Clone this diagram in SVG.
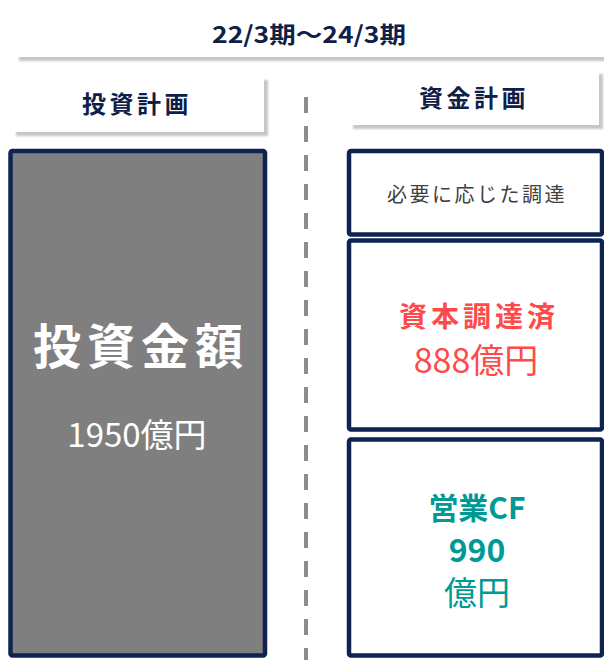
<svg xmlns="http://www.w3.org/2000/svg" width="604" height="660" viewBox="0 0 604 660">
<defs>
<filter id="soft" x="-5%" y="-20%" width="110%" height="140%"><feGaussianBlur stdDeviation="0.8"/></filter>
</defs>
<style>
text{font-family:"Noto Sans CJK JP","Noto Sans",sans-serif;text-anchor:middle}
.hdr{font-weight:bold;fill:#0e2047}
.shadow{fill:#c6c6c6;filter:url(#soft)}
.panel{fill:#ffffff}
.box{stroke:#0e2350;stroke-width:4.5}
.red{fill:#ff4a4a}
.teal{fill:#009a96}
</style>
<rect width="604" height="660" fill="#ffffff"/>
<g id="period">
<rect class="shadow" x="19" y="4" width="600" height="57"/>
<rect class="panel" x="15" y="0" width="600" height="57"/>
<text class="hdr" x="309" y="43" font-size="23" textLength="194" lengthAdjust="spacingAndGlyphs">22/3期～24/3期</text>
</g>
<g id="invest-header">
<rect class="shadow" x="16" y="80" width="252" height="56"/>
<rect class="panel" x="12" y="76" width="252" height="56"/>
<text class="hdr" x="137" y="113" font-size="24" letter-spacing="3.5">投資計画</text>
</g>
<g id="fund-header">
<rect class="shadow" x="353" y="74" width="250" height="55"/>
<rect class="panel" x="349" y="70" width="250" height="55"/>
<text class="hdr" x="474" y="107" font-size="24" letter-spacing="3.5">資金計画</text>
</g>
<g id="connectors">
<line x1="306" y1="97" x2="306" y2="660" stroke="#8c8c8c" stroke-width="4" stroke-dasharray="16 13"/>
</g>
<g id="invest-amount">
<rect class="box" x="10.5" y="151" width="254.5" height="504.5" rx="2" fill="#7f7f7f"/>
<text x="141" y="364" font-size="48" font-weight="bold" fill="#ffffff" letter-spacing="6">投資金額</text>
<text x="137" y="447" font-size="33" fill="#ffffff">1950億円</text>
</g>
<g id="as-needed">
<rect class="box" x="349" y="151" width="253" height="83.5" rx="2" fill="#ffffff"/>
<text x="477" y="202" font-size="20" fill="#404040" letter-spacing="2.5">必要に応じた調達</text>
</g>
<g id="capital">
<rect class="box" x="349" y="240.5" width="253" height="189" rx="2" fill="#ffffff"/>
<text class="red" x="479" y="327" font-size="28" font-weight="bold" letter-spacing="4">資本調達済</text>
<text class="red" x="476" y="373" font-size="34">888億円</text>
</g>
<g id="operating-cf">
<rect class="box" x="349" y="439.5" width="253" height="216" rx="2" fill="#ffffff"/>
<text class="teal" x="477" y="519" font-size="30" font-weight="bold">営業CF</text>
<text class="teal" x="477" y="562" font-size="32" font-weight="bold">990</text>
<text class="teal" x="477" y="605" font-size="33">億円</text>
</g>
</svg>
